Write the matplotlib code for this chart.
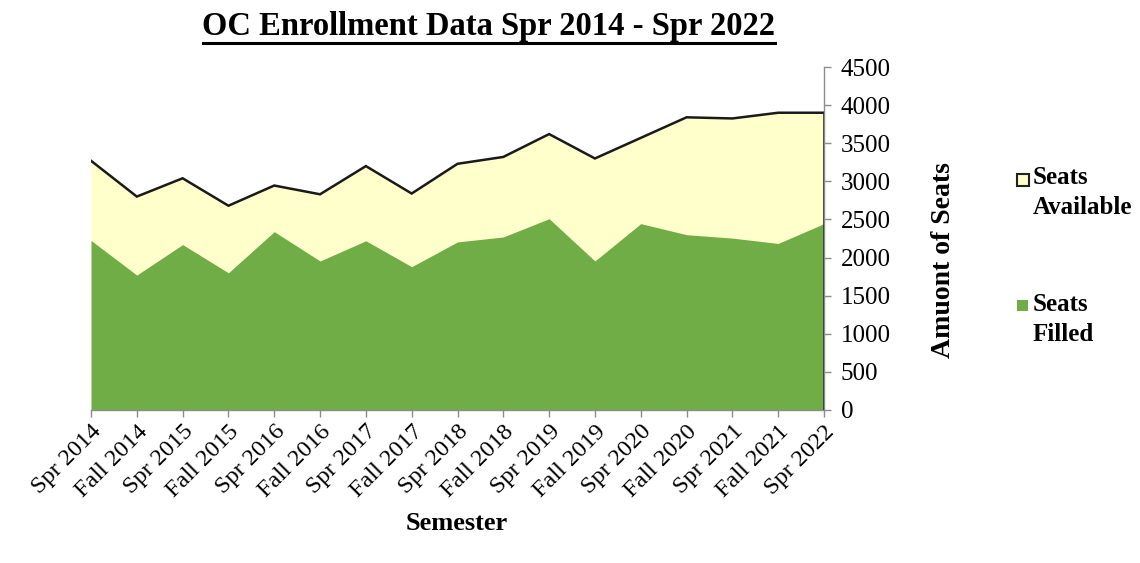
import matplotlib
matplotlib.use('Agg')
import matplotlib.pyplot as plt
import matplotlib.patches as patches
from matplotlib.lines import Line2D

# --- data ---
semesters = ['Spr 2014', 'Fall 2014', 'Spr 2015', 'Fall 2015', 'Spr 2016', 'Fall 2016',
             'Spr 2017', 'Fall 2017', 'Spr 2018', 'Fall 2018', 'Spr 2019', 'Fall 2019',
             'Spr 2020', 'Fall 2020', 'Spr 2021', 'Fall 2021', 'Spr 2022']
seats_available = [3270, 2800, 3040, 2680, 2945, 2830, 3200, 2840, 3230, 3320,
                   3620, 3300, 3570, 3840, 3825, 3900, 3900]
seats_filled = [2225, 1770, 2170, 1800, 2340, 1955, 2220, 1880, 2205, 2270,
                2510, 1955, 2445, 2300, 2255, 2185, 2445]
y_ticks = [0, 500, 1000, 1500, 2000, 2500, 3000, 3500, 4000, 4500]

SERIF = 'Liberation Serif'
COLOR_AVAIL = '#FFFFCC'
COLOR_FILLED = '#70AD47'
COLOR_AXIS = '#8C8C8C'

W, H = 1140, 563
fig = plt.figure(figsize=(W / 100, H / 100), dpi=100, facecolor='white')
ax = fig.add_axes([91 / W, 1 - 410 / H, (824 - 91) / W, (410 - 67) / H])

x = list(range(len(semesters)))
ax.fill_between(x, 0, seats_available, color=COLOR_AVAIL, lw=0, zorder=1)
ax.fill_between(x, 0, seats_filled, color=COLOR_FILLED, lw=0, zorder=2)
ax.plot(x, seats_available, color='#1a1a1a', lw=1.8, zorder=3, solid_joinstyle='miter')
ax.plot([x[-1], x[-1]], [0, seats_available[-1]], color='#333333', lw=1.2, zorder=3)

ax.set_xlim(0, len(semesters) - 1)
ax.set_ylim(0, 4500)
ax.margins(0)

# axes styling
for s in ['top', 'left']:
    ax.spines[s].set_visible(False)
for s in ['right', 'bottom']:
    ax.spines[s].set_color(COLOR_AXIS)
    ax.spines[s].set_linewidth(1.0)
ax.yaxis.tick_right()
ax.set_yticks(y_ticks)
ax.set_yticklabels([str(v) for v in y_ticks], fontname=SERIF, fontsize=18)
ax.set_xticks(x)
ax.set_xticklabels(semesters, fontname=SERIF, fontsize=17.5, rotation=45,
                   ha='right', rotation_mode='anchor')
ax.tick_params(axis='both', color=COLOR_AXIS, length=5, width=1.0)
ax.tick_params(axis='y', pad=7)
ax.tick_params(axis='x', pad=3)

# axis titles
fig.text(457 / W, 1 - 524 / H, 'Semester', fontname=SERIF, fontsize=19,
         fontweight='bold', ha='center', va='center')
fig.text(943 / W, 1 - 260 / H, 'Amuont of Seats', fontname=SERIF, fontsize=20,
         fontweight='bold', ha='center', va='center', rotation=90)

# title with underline
title = fig.text(489 / W, 1 - 27 / H, 'OC Enrollment Data Spr 2014 - Spr 2022',
                 fontname=SERIF, fontsize=23.5, fontweight='bold', ha='center', va='center')
fig.canvas.draw()
bb = title.get_window_extent(renderer=fig.canvas.get_renderer())
uy = (bb.y0 - 0.5) / fig.bbox.height
fig.add_artist(Line2D([bb.x0 / fig.bbox.width, bb.x1 / fig.bbox.width], [uy, uy],
                      transform=fig.transFigure, color='black', lw=2.2))

# legend (manual)
fig.add_artist(patches.Rectangle((1017 / W, 1 - 186 / H), 12 / W, 12 / H,
                                 transform=fig.transFigure, facecolor=COLOR_AVAIL,
                                 edgecolor='#222222', lw=1.5))
fig.text(1033 / W, 1 - 166 / H, 'Seats\nAvailable', fontname=SERIF, fontsize=18,
         fontweight='bold', ha='left', va='top', linespacing=1.4)
fig.add_artist(patches.Rectangle((1017 / W, 1 - 311 / H), 11 / W, 11 / H,
                                 transform=fig.transFigure, facecolor=COLOR_FILLED,
                                 edgecolor='none'))
fig.text(1033 / W, 1 - 293 / H, 'Seats\nFilled', fontname=SERIF, fontsize=18,
         fontweight='bold', ha='left', va='top', linespacing=1.4)

fig.savefig('out.png', dpi=100, facecolor='white')
